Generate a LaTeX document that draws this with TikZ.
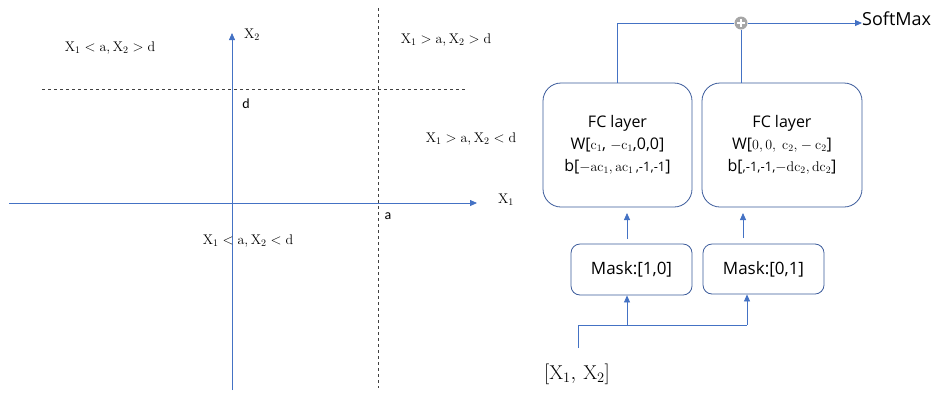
\documentclass[tikz,border=0pt]{standalone}
\usepackage{fontspec}
\usetikzlibrary{arrows.meta,calc}
\newfontfamily\boxfont{Open Sans}
\newfontfamily\calfont{Carlito}
\definecolor{axblue}{HTML}{4472C4}
\definecolor{boxblue}{HTML}{3A5A9A}
\definecolor{plusgray}{HTML}{A6A6A6}
\newcommand{\mth}[1]{{\fontsize{14}{16}\selectfont$#1$}}
\newcommand{\sml}[1]{{\fontsize{13}{16}\selectfont#1}}
\tikzset{
  x=1pt,y=-1pt,
  axis/.style={draw=axblue,line width=0.8pt,-{Triangle[width=6pt,length=7pt]}},
  guide/.style={draw=black!75,dashed,line width=0.6pt},
  reg/.style={font=\fontsize{14}{16}\selectfont,inner sep=0pt},
  lbl/.style={font=\calfont\fontsize{14}{16}\selectfont,inner sep=0pt},
  fcbox/.style={draw=boxblue,line width=0.8pt,rounded corners=18pt,align=center,
    font=\boxfont\fontsize{16}{22}\selectfont,inner sep=0pt},
  maskbox/.style={draw=boxblue,line width=0.8pt,rounded corners=9pt,
    font=\boxfont\fontsize{17}{19}\selectfont,inner sep=0pt},
  conn/.style={draw=axblue,line width=0.8pt},
  connarr/.style={conn,-{Triangle[width=6pt,length=7pt]}},
}
\begin{document}
\begin{tikzpicture}
\useasboundingbox (0,0) rectangle (952,392);
% left plot
\coordinate (xs) at (9,203);
\coordinate (xe) at (477,203);
\coordinate (ys) at (232,390);
\coordinate (ye) at (232,33);
\draw[guide] (378,8) -- (378,388);
\draw[guide] (42,89) -- (466,89);
\draw[axis] (xs) -- (xe);
\draw[axis] (ys) -- (ye);
\node[reg] (x1lbl) at (506,200) {$\mathrm{X}_1$};
\node[reg] (x2lbl) at (252,35) {$\mathrm{X}_2$};
\node[lbl] (dlbl) at (246,104) {d};
\node[lbl] (albl) at (388,216) {a};
\node[reg] (r1) at (110,48) {$\mathrm{X}_1 < \mathrm{a}, \mathrm{X}_2 > \mathrm{d}$};
\node[reg] (r2) at (446,40) {$\mathrm{X}_1 > \mathrm{a}, \mathrm{X}_2 > \mathrm{d}$};
\node[reg] (r3) at (471,139) {$\mathrm{X}_1 > \mathrm{a}, \mathrm{X}_2 < \mathrm{d}$};
\node[reg] (r4) at (248,241) {$\mathrm{X}_1 < \mathrm{a}, \mathrm{X}_2 < \mathrm{d}$};
% right network
\node[fcbox,minimum width=149pt,minimum height=124pt] (fc1) at (617.5,145)
  {FC layer\\W[\mth{\mathrm{c_1}}, \mth{-\mathrm{c_1}},0,0]\\b[\mth{-\mathrm{ac_1}, \mathrm{ac_1}}\sml{\,,-1,-1}]};
\node[fcbox,minimum width=160pt,minimum height=124pt] (fc2) at (782,145)
  {FC layer\\W[\mth{\mathrm{0,0,\ c_2,} -\mathrm{c_2}}]\\b[\sml{,-1,-1,}\mth{-\mathrm{dc_2}, \mathrm{dc_2}}]};
\node[maskbox,minimum width=121pt,minimum height=51pt] (m1) at (631.5,269.5) {Mask:[1,0]};
\node[maskbox,minimum width=121pt,minimum height=50pt] (m2) at (763.5,269) {Mask:[0,1]};
\node[circle,fill=plusgray,minimum size=13pt,inner sep=0pt] (plus) at (741,23) {};
\draw[white,line width=1.3pt] ($(plus)+(-4,0)$) -- ($(plus)+(4,0)$) ($(plus)+(0,-4)$) -- ($(plus)+(0,4)$);
\node[font=\boxfont\fontsize{18}{20}\selectfont,inner sep=0pt,anchor=west] (sm) at (862,19) {SoftMax};
\node[font=\fontsize{20}{22}\selectfont,inner sep=0pt] (inp) at (577,374) {$[\mathrm{X}_1,\,\mathrm{X}_2]$};
% connectors
\draw[conn] (fc1.north) |- (plus.west);
\draw[conn] (plus.south) -- (plus.south |- fc2.north);
\draw[connarr] (plus.east) -- (sm.west |- plus.east);
\coordinate (a1s) at (627,239);
\coordinate (a1e) at (627,213);
\coordinate (a2s) at (743,238);
\coordinate (a2e) at (743,213);
\draw[connarr] (a1s) -- (a1e);
\draw[connarr] (a2s) -- (a2e);
\coordinate (ins) at (578,348);
\coordinate (br) at (627,325);
\coordinate (br2) at (747,325);
\draw[conn] (ins) |- (br);
\draw[connarr] (br) -- (br |- m1.south);
\draw[conn] (br) -- (br2);
\draw[connarr] (br2) -- (br2 |- m2.south);
\end{tikzpicture}
\end{document}
